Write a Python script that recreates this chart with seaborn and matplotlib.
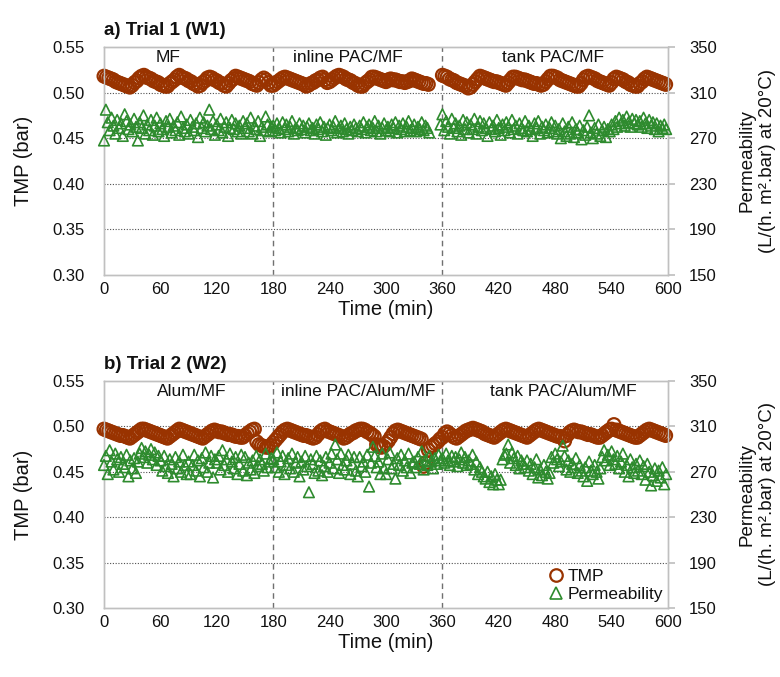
import numpy as np
import pandas as pd
import matplotlib
matplotlib.use("Agg")
import matplotlib.pyplot as plt
import seaborn as sns
from matplotlib.lines import Line2D

nan = np.nan

# sampling grids (min)
tmp_time = [i * 2.5 for i in range(240)]
perm_time = list(range(0, 600, 2))

# ---- Trial 1 (W1): TMP (bar), 2.5-min readings ----
tmp_w1 = [
    .518, .517, .516, .515, .514, .512, .511, .510, .509, .508, .507, .506,
    .508, .511, .513, .516, .518, .519, .517, .516, .515, .513, .512, .511,
    .509, .508, .507, .507, .510, .512, .514, .517, .519, .517, .516, .515,
    .513, .512, .510, .509, .507, .508, .511, .513, .516, .517, .516, .514,
    .513, .511, .510, .508, .507, .510, .513, .515, .518, .517, .516, .515,
    .514, .513, .512, .510, .509, .508, .511, .514, .516, .514, .511, .508,
    .508, .510, .512, .514, .516, .517, .516, .515, .514, .513, .512, .511,
    .510, .509, .507, .508, .510, .511, .513, .514, .516, .517, .514, .511,
    .512, .514, .516, .518, .519, .518, .517, .515, .514, .513, .511, .510,
    .508, .507, .507, .510, .512, .514, .517, .517, .516, .515, .514, .513,
    .512, .514, .515, .514, .514, .513, .512, .512, .511, .512, .513, .515,
    .514, .513, .512, .511, .510, .510, .509, nan, nan, nan, nan, nan,
    .519, .518, .517, .515, .514, .513, .511, .510, .509, .508, .507, .505,
    .506, .509, .512, .515, .518, .517, .516, .515, .514, .513, .512, .512,
    .511, .510, .509, .508, .511, .514, .517, .517, .516, .515, .514, .514,
    .513, .512, .511, .510, .510, .509, .508, .509, .512, .515, .518, .518,
    .517, .516, .514, .513, .512, .511, .510, .509, .508, .507, .507, .510,
    .514, .517, .518, .517, .516, .515, .513, .512, .511, .510, .509, .508,
    .511, .515, .517, .516, .515, .514, .512, .511, .509, .508, .507, .507,
    .510, .512, .515, .517, .516, .515, .514, .513, .512, .511, .510, .509,
]
# ---- Trial 1 (W1): permeability, 2-min readings ----
perm_w1 = [
    268, 295, 284, 277, 288, 281, 274, 286, 279, 283, 272, 291, 285, 278, 282,
    276, 287, 280, 268, 284, 279, 290, 274, 282, 277, 286, 273, 281, 288, 276,
    283, 278, 272, 285, 280, 287, 275, 281, 277, 284, 273, 289, 279, 276, 282,
    274, 286, 280, 277, 283, 271, 288, 279, 284, 276, 281, 295, 278, 285, 273,
    282, 277, 287, 275, 280, 284, 272, 279, 286, 278, 283, 276, 281, 274, 285,
    279, 283, 276, 288, 274, 281, 278, 285, 272, 280, 277, 289, 282, 276, 280,
    281, 277, 283, 279, 275, 284, 278, 282, 276, 280, 285, 274, 279, 277, 283,
    278, 281, 275, 280, 283, 277, 279, 274, 282, 278, 284, 276, 280, 273, 279,
    282, 277, 280, 285, 275, 279, 281, 276, 283, 278, 274, 280, 277, 282, 279,
    276, 281, 278, 284, 275, 280, 282, 277, 279, 285, 276, 281, 274, 279, 283,
    277, 280, 276, 282, 279, 284, 275, 281, 278, 283, 276, 280, 285, 277, 279,
    282, 276, 280, 278, 284, 277, 281, 279, 275, nan, nan, nan, nan, nan, 282,
    291, 277, 285, 280, 274, 287, 279, 283, 276, 281, 273, 286, 278, 284, 275,
    282, 278, 287, 274, 280, 285, 277, 283, 279, 272, 284, 278, 281, 276, 286,
    279, 273, 282, 277, 284, 280, 275, 286, 278, 281, 274, 283, 279, 277, 285,
    276, 281, 278, 272, 283, 279, 285, 274, 280, 277, 282, 275, 279, 284, 276,
    281, 274, 278, 270, 283, 276, 272, 280, 274, 284, 271, 278, 275, 281, 269,
    277, 273, 280, 290, 275, 270, 279, 274, 282, 272, 277, 280, 271, 278, 276,
    282, 278, 285, 280, 288, 283, 286, 281, 289, 284, 280, 287, 283, 286, 282,
    285, 280, 288, 283, 279, 286, 281, 284, 278, 283, 276, 281, 279, 282, 278,
]

# ---- Trial 2 (W2): TMP (bar), 2.5-min readings ----
tmp_w2 = [
    .497, .496, .495, .494, .493, .492, .491, .490, .490, .489, .488, .487,
    .489, .491, .493, .495, .497, .497, .496, .495, .494, .493, .492, .491,
    .490, .489, .488, .487, .489, .491, .493, .495, .497, .496, .495, .494,
    .493, .492, .491, .490, .489, .488, .487, .489, .491, .493, .495, .496,
    .495, .494, .494, .493, .492, .491, .491, .490, .489, .489, .488, .488,
    .490, .492, .494, .496, .497, .483, .480, .479, .478, .477, .477, .479,
    .482, .485, .488, .491, .494, .496, .497, .496, .495, .494, .493, .492,
    .491, .490, .490, .489, .488, .487, .488, .491, .494, .496, .497, .495,
    .494, .493, .492, .491, .490, .489, .487, .488, .490, .492, .493, .495,
    .496, .497, .497, .496, .494, .493, .491, .489, .480, .478, .477, .478,
    .481, .484, .488, .492, .495, .496, .495, .494, .493, .492, .491, .490,
    .489, .488, .487, .486, .456, .460, .474, .477, .479, .481, .483, .486,
    .488, .492, .494, .492, .490, .488, .487, .489, .491, .493, .495, .496,
    .497, .498, .497, .496, .495, .494, .492, .491, .490, .489, .488, .490,
    .492, .494, .496, .497, .496, .495, .494, .493, .492, .491, .490, .489,
    .488, .490, .492, .494, .496, .497, .496, .495, .494, .493, .492, .491,
    .490, .489, .489, .488, .484, .490, .493, .495, .496, .495, .494, .494,
    .493, .492, .491, .491, .490, .489, .488, .488, .490, .492, .494, .496,
    .497, .502, .496, .495, .494, .493, .492, .491, .490, .489, .488, .488,
    .490, .492, .494, .496, .497, .496, .495, .494, .493, .492, .491, .490,
]
# ---- Trial 2 (W2): permeability, 2-min readings ----
perm_w2 = [
    276, 284, 268, 289, 279, 272, 286, 281, 270, 283, 277, 274, 285, 266, 280,
    273, 282, 269, 279, 286, 291, 283, 288, 278, 285, 290, 281, 287, 276, 284,
    280, 271, 284, 275, 269, 281, 277, 266, 283, 273, 279, 270, 285, 276, 268,
    279, 268, 276, 285, 271, 280, 266, 282, 274, 287, 270, 278, 284, 265, 281,
    278, 284, 272, 289, 276, 281, 270, 286, 279, 273, 283, 268, 277, 285, 271,
    283, 267, 278, 272, 280, 269, 284, 275, 281, 277, 271, 286, 274, 279, 282,
    281, 274, 287, 270, 279, 284, 268, 276, 282, 273, 286, 270, 278, 283, 266,
    279, 272, 284, 275, 252, 281, 277, 269, 284, 271, 280, 267, 275, 283, 270,
    278, 286, 273, 294, 281, 269, 286, 276, 272, 280, 285, 268, 277, 283, 271,
    266, 283, 275, 279, 270, 285, 257, 278, 292, 284, 274, 279, 268, 286, 273,
    268, 281, 287, 273, 277, 264, 282, 276, 285, 271, 280, 274, 286, 269, 278,
    279, 274, 283, 277, 288, 272, 280, 276, 284, 279, 273, 282, 277, 285, 280,
    282, 278, 286, 280, 276, 284, 279, 283, 275, 281, 287, 278, 283, 276, 280,
    277, 285, 272, 279, 268, 274, 270, 266, 264, 270, 261, 266, 259, 268, 263,
    259, 263, 281, 285, 286, 294, 278, 287, 282, 276, 284, 273, 280, 277, 274,
    280, 271, 277, 268, 274, 281, 265, 272, 267, 276, 270, 264, 269, 283, 278,
    286, 281, 275, 279, 293, 284, 272, 280, 270, 277, 274, 282, 269, 276, 271,
    266, 274, 262, 279, 271, 268, 276, 270, 264, 273, 283, 289, 280, 285, 276,
    288, 281, 277, 284, 273, 279, 286, 270, 276, 266, 281, 274, 269, 277, 271,
    280, 268, 275, 263, 277, 270, 258, 267, 273, 262, 271, 265, 274, 259, 268,
]

titles = ["a) Trial 1 (W1)", "b) Trial 2 (W2)"]
sections_w1 = ["MF", "inline PAC/MF", "tank PAC/MF"]
sections_w2 = ["Alum/MF", "inline PAC/Alum/MF", "tank PAC/Alum/MF"]
section_pos_w1 = [68, 259, 478]
section_pos_w2 = [93, 270, 489]
x_ticks = [0, 60, 120, 180, 240, 300, 360, 420, 480, 540, 600]
left_ticks = [0.30, 0.35, 0.40, 0.45, 0.50, 0.55]
right_ticks = [150, 190, 230, 270, 310, 350]
phase_bounds = [180, 360]

BROWN = "#993300"
GREEN = "#2e8b2e"
SPINE = "#c0c0c0"
TXT = "#111111"

sns.set_theme(style="white")
plt.rcParams["font.family"] = ["Liberation Sans", "DejaVu Sans"]
plt.rcParams["text.color"] = TXT
plt.rcParams["axes.labelcolor"] = TXT
plt.rcParams["xtick.color"] = TXT
plt.rcParams["ytick.color"] = TXT

fig = plt.figure(figsize=(7.8, 6.77), dpi=100)
W, H = 780.0, 677.0
ax_top = fig.add_axes([104 / W, 1 - 275 / H, 564 / W, 228 / H])
ax_bot = fig.add_axes([104 / W, 1 - 608 / H, 564 / W, 227 / H])


def draw_panel(ax, tmp, perm, sections, spos, title, legend=False):
    axr = ax.twinx()
    df_t = pd.DataFrame({"t": tmp_time, "v": tmp}).dropna()
    df_p = pd.DataFrame({"t": perm_time, "v": perm}).dropna()

    ax.set_xlim(0, 600)
    ax.set_ylim(0.30, 0.55)
    axr.set_ylim(150, 350)

    for yv in left_ticks[1:-1]:
        ax.axhline(yv, color="#505050", lw=0.8, ls=(0, (1, 1.5)), zorder=1)
    for xv in phase_bounds:
        ax.axvline(xv, color="#707070", lw=1.0, ls=(0, (4, 3)), zorder=1)

    sns.scatterplot(data=df_t, x="t", y="v", ax=ax, marker="o", s=85,
                    fc="none", ec=BROWN, linewidth=1.6, clip_on=False,
                    zorder=3, legend=False)
    sns.scatterplot(data=df_p, x="t", y="v", ax=axr, marker="^", s=58,
                    fc="none", ec=GREEN, linewidth=1.2, clip_on=False,
                    zorder=3, legend=False)

    ax.set_xticks(x_ticks)
    ax.set_yticks(left_ticks)
    ax.set_yticklabels([f"{v:.2f}" for v in left_ticks])
    axr.set_yticks(right_ticks)

    ax.tick_params(axis="x", direction="in", length=3, color=SPINE,
                   labelsize=12, pad=5, labelcolor=TXT)
    ax.tick_params(axis="y", length=0, labelsize=12, pad=14, labelcolor=TXT)
    axr.tick_params(axis="y", direction="out", length=5, color=SPINE,
                    labelsize=12, pad=10, labelcolor=TXT)

    for a in (ax, axr):
        for sp in a.spines.values():
            sp.set_color(SPINE)
            sp.set_linewidth(1.0)

    ax.set_xlabel("Time (min)", fontsize=14.5, labelpad=2, color=TXT)
    ax.set_ylabel("TMP (bar)", fontsize=14.5, labelpad=14, color=TXT)
    axr.set_ylabel("Permeability\n(L/(h. m².bar) at 20°C)", fontsize=13.5,
                   labelpad=16, linespacing=1.2, color=TXT)

    for lab, xp in zip(sections, spos):
        ax.text(xp, 0.5385, lab, ha="center", va="center", fontsize=12.5,
                color=TXT)

    ax.text(0.0, 1.035, title, transform=ax.transAxes, ha="left",
            va="bottom", fontsize=13.5, fontweight="bold", color=TXT,
            family=["Liberation Sans Narrow", "Liberation Sans", "DejaVu Sans"])

    if legend:
        handles = [
            Line2D([], [], marker="o", ls="none", mfc="none", mec=BROWN,
                   mew=1.6, ms=9),
            Line2D([], [], marker="^", ls="none", mfc="none", mec=GREEN,
                   mew=1.2, ms=8),
        ]
        axr.legend(handles, ["TMP", "Permeability"], loc="lower right",
                   bbox_to_anchor=(1.01, -0.02), frameon=False,
                   fontsize=12.5, handletextpad=0.1, labelspacing=0.15,
                   borderaxespad=0.2, handlelength=1.2, labelcolor=TXT)


draw_panel(ax_top, tmp_w1, perm_w1, sections_w1, section_pos_w1, titles[0])
draw_panel(ax_bot, tmp_w2, perm_w2, sections_w2, section_pos_w2, titles[1],
           legend=True)

fig.savefig("out.png", dpi=100)
